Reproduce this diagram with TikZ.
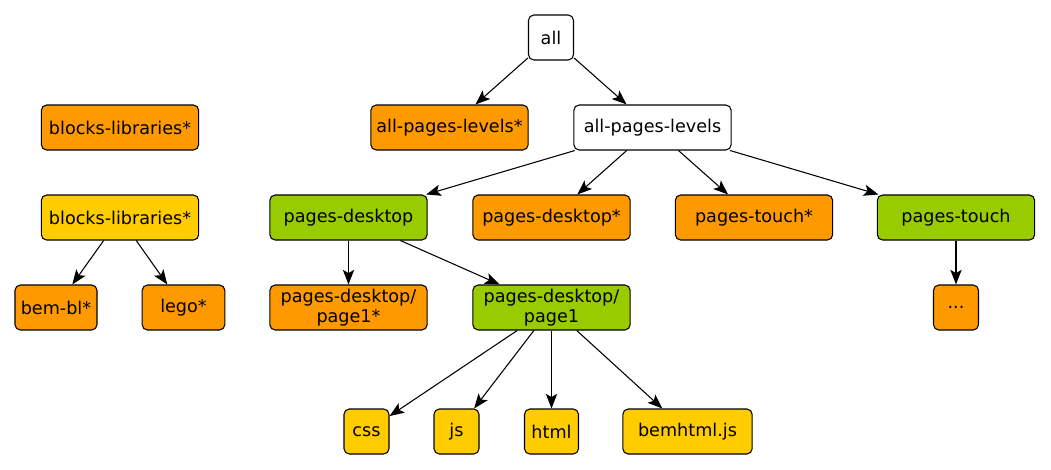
\documentclass[tikz,border=0pt]{standalone}
\usepackage{fontspec}
\setmainfont{DejaVu Sans}
\usetikzlibrary{arrows.meta}
\definecolor{borange}{RGB}{255,153,0}
\definecolor{byellow}{RGB}{255,204,0}
\definecolor{bgreen}{RGB}{153,204,0}

\begin{document}
\begin{tikzpicture}[x=0.75pt,y=-0.75pt,
  box/.style={draw,rounded corners=4pt,line width=0.8pt,font=\fontsize{13.2}{14.5}\selectfont,
              minimum height=33.75pt,minimum width=33.75pt,inner xsep=4pt,align=center},
  wide/.style={box,minimum width=118pt},
  plain/.style={box,fill=white},
  ora/.style={box,fill=borange},
  yel/.style={box,fill=byellow},
  grn/.style={box,fill=bgreen},
  arr/.style={-{Stealth[length=11pt,width=8.5pt,inset=2.5pt]},line width=0.8pt}
]
\useasboundingbox (0,0) rectangle (1051,469);
\node[plain] (all)   at (551,37.5)    {all};
\node[ora,wide] (aplx) at (449.5,127.5) {all-pages-levels*};
\node[plain,wide] (apl) at (652.5,127.5) {all-pages-levels};
\node[ora,wide] (blx)  at (120,127.5)   {blocks-libraries*};
\node[yel,wide] (bly)  at (120,217.5)   {blocks-libraries*};
\node[ora,minimum width=61.5pt] (bem)  at (56,307.5)  {bem-bl*};
\node[ora,minimum width=62pt] (lego) at (183.5,307.5) {lego*};
\node[grn,wide] (pd)   at (348.5,217.5) {pages-desktop};
\node[ora,wide] (pdx)  at (551.5,217.5) {pages-desktop*};
\node[ora,wide] (ptx)  at (754,217.5)   {pages-touch*};
\node[grn,wide] (pt)   at (956,217.5)   {pages-touch};
\node[ora] (dots)      at (956,307.5)   {...};
\node[ora,wide,inner ysep=1pt] (pgx) at (348.5,307.5) {pages-desktop/\\page1*};
\node[grn,wide,inner ysep=1pt] (pg)  at (551.5,307.5) {pages-desktop/\\page1};
\node[yel] (css)  at (366.5,431.5) {css};
\node[yel] (js)   at (456.5,431.5) {js};
\node[yel,minimum width=40.5pt] (html) at (551.5,431.5) {html};
\node[yel,minimum width=97pt] (bh) at (687.5,431.5) {bemhtml.js};
\draw[arr] (all)--(aplx);
\draw[arr] (all)--(apl);
\draw[arr] (bly)--(bem);
\draw[arr] (bly)--(lego);
\draw[arr] (apl)--(pd);
\draw[arr] (apl)--(pdx);
\draw[arr] (apl)--(ptx);
\draw[arr] (apl)--(pt);
\draw[arr] (pt)--(dots);
\draw[arr] (pd)--(pgx);
\draw[arr] (pd)--(pg);
\draw[arr] (pg)--(css);
\draw[arr] (pg)--(js);
\draw[arr] (pg)--(html);
\draw[arr] (pg)--(bh);
\end{tikzpicture}
\end{document}
